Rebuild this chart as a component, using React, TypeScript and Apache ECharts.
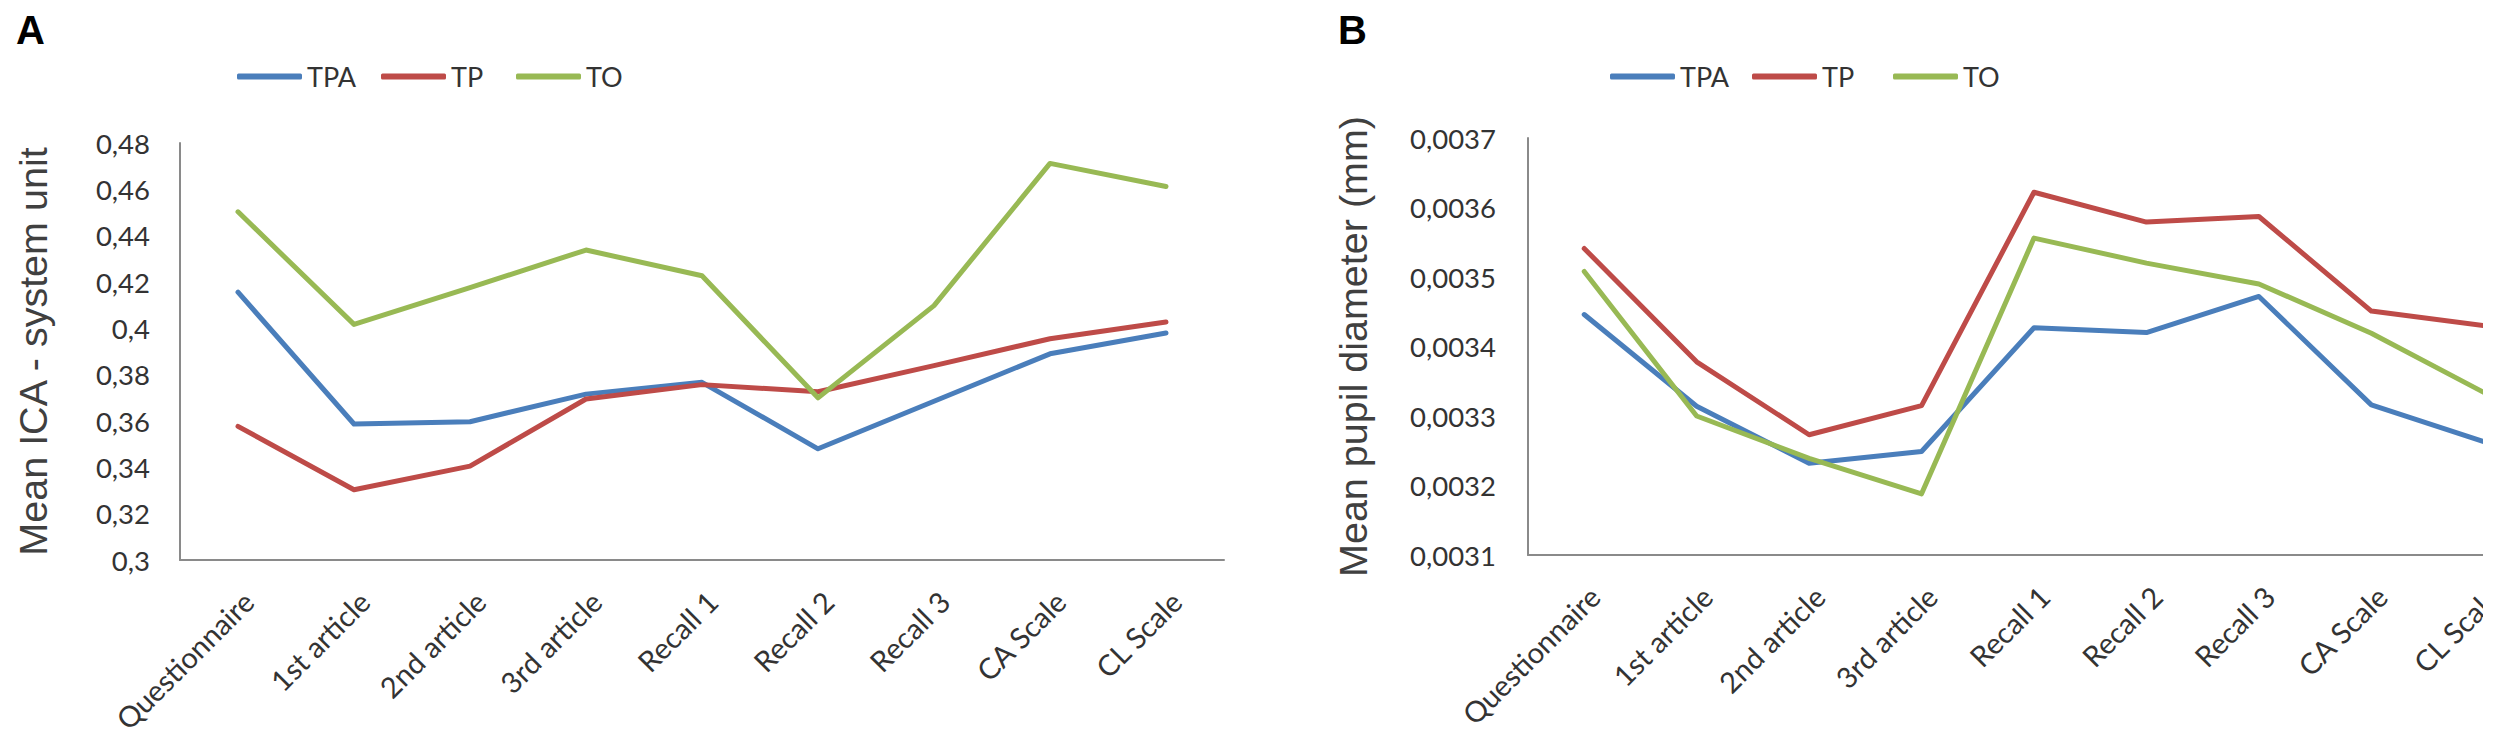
import React, { useEffect, useRef } from "react";
import * as echarts from "echarts";

const categories = [
  "Questionnaire",
  "1st article",
  "2nd article",
  "3rd article",
  "Recall 1",
  "Recall 2",
  "Recall 3",
  "CA Scale",
  "CL Scale",
];

const seriesNames = ["TPA", "TP", "TO"];
const seriesColors = ["#4A7EBB", "#BE4B48", "#98B954"];

// Panel A: Mean ICA - system unit
const icaTPA = [0.4156, 0.3587, 0.3597, 0.3716, 0.3767, 0.348, 0.3685, 0.389, 0.398];
const icaTP = [0.3577, 0.3303, 0.3405, 0.3695, 0.3757, 0.3726, 0.3839, 0.3955, 0.4027];
const icaTO = [0.4503, 0.4017, 0.4176, 0.4338, 0.4227, 0.370, 0.4098, 0.4712, 0.4612];

// Panel B: Mean pupil diameter (mm)
const pupilTPA = [0.003446, 0.003314, 0.003232, 0.003249, 0.003427, 0.00342, 0.003472, 0.003316, 0.003263];
const pupilTP = [0.003541, 0.003378, 0.003273, 0.003315, 0.003622, 0.003579, 0.003587, 0.003451, 0.00343];
const pupilTO = [0.003508, 0.0033, 0.003239, 0.003188, 0.003556, 0.00352, 0.00349, 0.003419, 0.003334];

const yTicksA = { min: 0.3, max: 0.48, interval: 0.02 };
const yTicksB = { min: 0.0031, max: 0.0037, interval: 0.0001 };

const LABEL_FONT = "Lato";
const TITLE_FONT = "Liberation Sans";

export default function App() {
  const ref = useRef<HTMLDivElement>(null);

  useEffect(() => {
    if (!ref.current) return;
    const chart = echarts.init(ref.current, undefined, { renderer: "svg" });

    const commaFmt = (digits: number) => (v: number) =>
      parseFloat(v.toFixed(digits)).toString().replace(".", ",");

    const xAxisBase = (gridIndex: number) => ({
      type: "category",
      gridIndex,
      data: categories,
      boundaryGap: true,
      axisLine: { show: true, lineStyle: { color: "#8a8a8a", width: 2 } },
      axisTick: { show: false },
      splitLine: { show: false },
      axisLabel: {
        rotate: 45,
        interval: 0,
        margin: 26,
        verticalAlign: "top",
        fontFamily: LABEL_FONT,
        fontSize: 29,
        color: "#333333",
      },
    });

    const yAxisBase = (gridIndex: number, t: any, digits: number, name: string, nameGap: number, labelMargin: number) => ({
      type: "value",
      gridIndex,
      min: t.min,
      max: t.max,
      interval: t.interval,
      name,
      nameLocation: "middle",
      nameGap,
      nameTextStyle: { fontFamily: TITLE_FONT, fontSize: 39.5, color: "#404040" },
      axisLine: { show: true, lineStyle: { color: "#8a8a8a", width: 2 } },
      axisTick: { show: false },
      splitLine: { show: false },
      axisLabel: {
        margin: labelMargin,
        formatter: commaFmt(digits),
        fontFamily: LABEL_FONT,
        fontSize: 27.5,
        color: "#333333",
      },
    });

    const lineSeries = (name: string, data: number[], color: string, idx: number) => ({
      type: "line",
      name,
      data,
      xAxisIndex: idx,
      yAxisIndex: idx,
      symbol: "none",
      lineStyle: { color, width: 5, join: "round", cap: "round" },
      itemStyle: { color },
    });

    const legendAt = (name: string, left: number) => ({
      data: [name],
      left,
      top: 63,
      padding: 0,
      itemGap: 0,
      itemWidth: 65,
      itemHeight: 6,
      icon: "roundRect",
      textStyle: { fontFamily: LABEL_FONT, fontSize: 27, color: "#333333" },
    });

    const legendLeftsA = [237, 381, 516];
    const legendLeftsB = [1610, 1752, 1893];

    const option: any = {
      animation: false,
      backgroundColor: "#ffffff",
      grid: [
        { left: 180, top: 143, width: 1044, height: 417, containLabel: false, outerBoundsMode: "none" },
        { left: 1528, top: 138, width: 1012, height: 417, containLabel: false, outerBoundsMode: "none" },
      ],
      xAxis: [xAxisBase(0), xAxisBase(1)],
      yAxis: [
        yAxisBase(0, yTicksA, 2, "Mean ICA - system unit", 127, 30),
        yAxisBase(1, yTicksB, 4, "Mean pupil diameter (mm)", 155, 32),
      ],
      legend: [
        ...seriesNames.map((n, i) => legendAt(n, legendLeftsA[i])),
        ...seriesNames.map((n, i) => legendAt(n, legendLeftsB[i])),
      ],
      graphic: [
        {
          type: "text",
          left: 16,
          top: 10,
          style: { text: "A", font: `bold 40px "${TITLE_FONT}"`, fill: "#000000" },
        },
        {
          type: "text",
          left: 1338,
          top: 10,
          style: { text: "B", font: `bold 40px "${TITLE_FONT}"`, fill: "#000000" },
        },
      ],
      series: [
        lineSeries("TPA", icaTPA, seriesColors[0], 0),
        lineSeries("TP", icaTP, seriesColors[1], 0),
        lineSeries("TO", icaTO, seriesColors[2], 0),
        lineSeries("TPA", pupilTPA, seriesColors[0], 1),
        lineSeries("TP", pupilTP, seriesColors[1], 1),
        lineSeries("TO", pupilTO, seriesColors[2], 1),
      ],
    };

    chart.setOption(option);
    return () => chart.dispose();
  }, []);

  return (
    <div
      ref={ref}
      style={{ position: "absolute", left: 0, top: 0, width: 2483, height: 740, overflow: "hidden", background: "#fff" }}
    />
  );
}
